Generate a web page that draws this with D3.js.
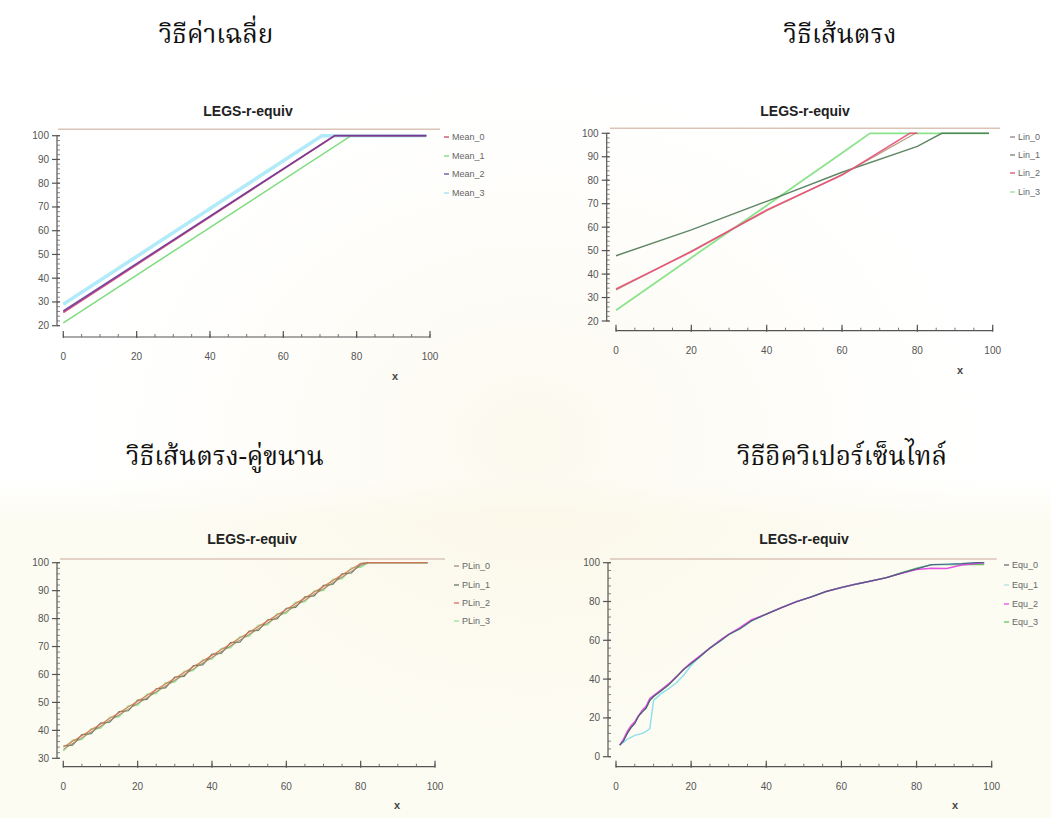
<!DOCTYPE html>
<html><head><meta charset="utf-8">
<script src="https://cdn.jsdelivr.net/npm/d3@7"></script>
<style>
html,body{margin:0;padding:0;background:#fff;}
svg{display:block;}
.head{font-family:"Angsana New","Norasi","Kinnari","Noto Serif Thai","Liberation Serif","DejaVu Serif",serif;font-size:26px;fill:#111;}
.ttl{font-family:"Liberation Sans",Arial,sans-serif;font-weight:bold;font-size:14px;fill:#222;}
.tick{font-family:"Liberation Sans Narrow","Liberation Sans",Arial,sans-serif;font-size:10px;fill:#555;}
.leg{font-family:"Liberation Sans Narrow","Liberation Sans",Arial,sans-serif;font-size:9px;fill:#666;}
.xl{font-family:"Liberation Sans",Arial,sans-serif;font-size:11px;font-weight:bold;fill:#444;}
</style></head>
<body><svg id="c" width="1051" height="818"></svg>
<script>
// ---------- data ----------
const panelHeads = ["วิธีค่าเฉลี่ย", "วิธีเส้นตรง", "วิธีเส้นตรง-คู่ขนาน", "วิธีอิควิเปอร์เซ็นไทล์"];
const chartTitle = "LEGS-r-equiv";
const xTicks = [0, 20, 40, 60, 80, 100];

// Mean method
const meanNames = ["Mean_0", "Mean_1", "Mean_2", "Mean_3"];
const mean0X = [0, 74, 99],   mean0Y = [25.6, 100, 100];
const mean1X = [0, 78.5, 99], mean1Y = [21.2, 100, 100];
const mean2X = [0, 74, 99],   mean2Y = [26.2, 100, 100];
const mean3X = [0, 70.5, 99], mean3Y = [29.0, 100, 100];
const meanYTicks = [20, 30, 40, 50, 60, 70, 80, 90, 100];

// Linear method
const linNames = ["Lin_0", "Lin_1", "Lin_2", "Lin_3"];
const lin0X = [0, 20, 40, 60, 79.5, 80],  lin0Y = [33.2, 49.8, 67.0, 82.4, 100, 100];
const lin1X = [0, 20, 40, 60, 80, 86.5, 99], lin1Y = [47.8, 58.8, 71.0, 83.4, 94.4, 100, 100];
const lin2X = [0, 20, 40, 60, 78, 80],    lin2Y = [33.6, 49.5, 67.3, 82.2, 100, 100];
const lin3X = [0, 20, 40, 60, 67.4, 99],  lin3Y = [24.6, 47.0, 69.2, 91.6, 100, 100];
const linYTicks = [20, 30, 40, 50, 60, 70, 80, 90, 100];

// Parallel-linear method
const plinNames = ["PLin_0", "PLin_1", "PLin_2", "PLin_3"];
const plinX = [0, 2.5, 5, 7.5, 10, 12.5, 15, 17.5, 20, 22.5, 25, 27.5, 30, 32.5, 35, 37.5, 40, 42.5, 45, 47.5, 50, 52.5, 55, 57.5, 60, 62.5, 65, 67.5, 70, 72.5, 75, 77.5, 80, 82, 98];
const plin0Y = [33.2, 35.3, 37.3, 39.4, 41.4, 43.5, 45.5, 47.6, 49.6, 51.7, 53.8, 55.8, 57.9, 59.9, 62.0, 64.0, 66.1, 68.1, 70.2, 72.3, 74.3, 76.4, 78.4, 80.5, 82.5, 84.6, 86.6, 88.7, 90.7, 92.8, 94.9, 96.9, 99.0, 100, 100];
const plin1Y = [34.4, 34.7, 38.5, 38.8, 42.6, 42.9, 46.7, 47.0, 50.8, 51.1, 54.9, 55.2, 59.1, 59.3, 63.2, 63.4, 67.3, 67.5, 71.4, 71.6, 75.5, 75.8, 79.6, 79.9, 83.7, 84.0, 87.8, 88.1, 91.9, 92.2, 96.0, 96.3, 99.6, 100, 100];
const plin2Y = [34.0, 36.1, 38.1, 40.2, 42.2, 44.3, 46.3, 48.4, 50.4, 52.5, 54.6, 56.6, 58.7, 60.7, 62.8, 64.8, 66.9, 68.9, 71.0, 73.1, 75.1, 77.2, 79.2, 81.3, 83.3, 85.4, 87.4, 89.5, 91.5, 93.6, 95.7, 97.7, 99.8, 100, 100];
const plin3Y = [32.6, 36.5, 36.7, 40.6, 40.8, 44.7, 44.9, 48.8, 49.0, 52.9, 53.2, 57.0, 57.3, 61.1, 61.4, 65.2, 65.5, 69.3, 69.6, 73.5, 73.7, 77.6, 77.8, 81.7, 81.9, 85.8, 86.0, 89.9, 90.1, 94.0, 94.3, 98.1, 98.4, 100, 100];
const plinYTicks = [30, 40, 50, 60, 70, 80, 90, 100];

// Equipercentile method
const equNames = ["Equ_0", "Equ_1", "Equ_2", "Equ_3"];
const equX  = [1, 2, 3, 4, 5, 6, 7, 8, 9, 10, 12, 14, 16, 18, 20, 22, 25, 28, 30, 33, 36, 40, 44, 48, 52, 56, 60, 64, 68, 72, 76, 80, 84, 88, 92, 96, 98];
const equ0Y = [6, 8, 12, 15, 17, 21, 23, 25, 29, 31, 34, 37, 41, 45, 48, 51, 56, 60, 63, 66, 70, 73.5, 76.8, 79.9, 82.4, 85.2, 87.2, 89.0, 90.6, 92.3, 94.6, 96.8, 99.0, 99.2, 99.5, 100, 100];
const equ1Y = [6, 7.5, 9, 10, 11, 11.5, 12, 13, 14.5, 29, 32.5, 35, 38, 42, 47, 51, 56, 60, 63, 66, 70, 73.5, 76.8, 79.9, 82.4, 85.2, 87.2, 89.0, 90.6, 92.3, 94.6, 96.8, 99.0, 99.2, 99.5, 100, 100];
const equ2Y = [6, 9, 13, 16, 18, 21, 24, 26, 30, 31.5, 34.5, 37.5, 41, 45, 48.5, 51.5, 56, 60.5, 63, 66.5, 70.5, 73.5, 76.8, 79.9, 82.4, 85.2, 87.2, 89.0, 90.6, 92.3, 94.6, 96.5, 97.2, 97.0, 98.8, 99.6, 100];
const equ3Y = [6, 8.5, 12, 15, 17.5, 21, 23.5, 25, 29, 31, 34, 37, 41, 45, 48, 51, 56, 60, 63, 66, 70, 73.5, 76.8, 79.9, 82.4, 85.2, 87.2, 89.0, 90.6, 92.3, 94.8, 97.2, 99.0, 99.0, 99.0, 99.0, 99.0];
const equYTicks = [0, 20, 40, 60, 80, 100];

// ---------- drawing ----------
const svg = d3.select("#c");

// faint watermark tint
const defs = svg.append("defs");
const rg = defs.append("radialGradient").attr("id", "wm").attr("cx", "0.5").attr("cy", "0.5").attr("r", "0.5");
rg.append("stop").attr("offset", "0").attr("stop-color", "#f6efd2").attr("stop-opacity", 0.4);
rg.append("stop").attr("offset", "1").attr("stop-color", "#fbf8ea").attr("stop-opacity", 0);
const bg = defs.append("linearGradient").attr("id", "band").attr("x1", 0).attr("y1", 0).attr("x2", 0).attr("y2", 1);
bg.append("stop").attr("offset", "0").attr("stop-color", "#fdfcf3").attr("stop-opacity", 0);
bg.append("stop").attr("offset", "0.12").attr("stop-color", "#fdfcf3").attr("stop-opacity", 1);
bg.append("stop").attr("offset", "1").attr("stop-color", "#fdfcf3").attr("stop-opacity", 1);
svg.append("rect").attr("x", 0).attr("y", 478).attr("width", 1051).attr("height", 340).attr("fill", "url(#band)");
svg.append("rect").attr("x", 60).attr("y", 60).attr("width", 940).attr("height", 758).attr("fill", "url(#wm)");

// headers
const headPos = [[216, 43], [840, 43], [225, 465], [842, 465]];
panelHeads.forEach((t, i) => svg.append("text").attr("class", "head").attr("x", headPos[i][0]).attr("y", headPos[i][1]).attr("text-anchor", "middle").text(t));

function zip(xs, ys) { return xs.map((x, i) => [x, ys[i]]); }

function panel(cfg) {
  const g = svg.append("g");
  const x = d3.scaleLinear().domain([0, 100]).range(cfg.xr);
  const y = d3.scaleLinear().domain(cfg.yd).range(cfg.yr);
  // frame top line
  g.append("line").attr("x1", cfg.frame[0]).attr("x2", cfg.frame[1]).attr("y1", cfg.frameY).attr("y2", cfg.frameY)
    .attr("stroke", "#dcc3b8").attr("stroke-width", 1.5);
  // title
  g.append("text").attr("class", "ttl").attr("x", cfg.title[0]).attr("y", cfg.title[1]).attr("text-anchor", "middle").text(chartTitle);
  // y axis
  const ax = cfg.axisX;
  g.append("line").attr("x1", ax).attr("x2", ax).attr("y1", y(cfg.yd[1])).attr("y2", y(cfg.yd[0])).attr("stroke", "#555").attr("stroke-width", 1.2);
  const minor = d3.range(cfg.yd[0], cfg.yd[1] + 0.001, cfg.yMinor);
  g.selectAll(null).data(minor).join("line").attr("x1", ax).attr("x2", ax + 3).attr("y1", d => y(d)).attr("y2", d => y(d)).attr("stroke", "#666").attr("stroke-width", 0.8);
  g.selectAll(null).data(cfg.yTicks).join("line").attr("x1", ax - 5).attr("x2", ax + 3).attr("y1", d => y(d)).attr("y2", d => y(d)).attr("stroke", "#555").attr("stroke-width", 1.2);
  g.selectAll(null).data(cfg.yTicks).join("text").attr("class", "tick").attr("x", ax - 8).attr("y", d => y(d)).attr("dy", "0.35em").attr("text-anchor", "end").text(d => d);
  // x axis
  const xa = cfg.axisY;
  g.append("line").attr("x1", x(0)).attr("x2", x(100)).attr("y1", xa).attr("y2", xa).attr("stroke", "#555").attr("stroke-width", 1.2);
  const xm = d3.range(0, 100.001, 5);
  g.selectAll(null).data(xm).join("line").attr("x1", d => x(d)).attr("x2", d => x(d)).attr("y1", xa).attr("y2", xa - 3).attr("stroke", "#666").attr("stroke-width", 0.9);
  g.selectAll(null).data(xTicks).join("line").attr("x1", d => x(d)).attr("x2", d => x(d)).attr("y1", xa + 1).attr("y2", xa - 6).attr("stroke", "#555").attr("stroke-width", 1.2);
  g.selectAll(null).data(xTicks).join("text").attr("class", "tick").attr("x", d => x(d)).attr("y", xa + 23).attr("text-anchor", "middle").text(d => d);
  g.append("text").attr("class", "xl").attr("x", cfg.xlab[0]).attr("y", cfg.xlab[1]).attr("text-anchor", "middle").text("x");
  // lines
  const line = d3.line().x(d => x(d[0])).y(d => y(d[1]));
  cfg.series.forEach(s => {
    g.append("path").datum(s.pts).attr("d", line).attr("fill", "none").attr("stroke", s.color).attr("stroke-width", s.w || 1.5).attr("stroke-opacity", 0.9);
  });
  // legend
  cfg.names.forEach((n, i) => {
    const ly = cfg.legY[i];
    g.append("line").attr("x1", cfg.legX).attr("x2", cfg.legX + 5).attr("y1", ly).attr("y2", ly).attr("stroke", cfg.legCol[i]).attr("stroke-width", 1.2);
    g.append("text").attr("class", "leg").attr("x", cfg.legX + 8).attr("y", ly).attr("dy", "0.35em").text(n);
  });
}

panel({
  xr: [63.3, 430], yd: [20, 100], yr: [325.7, 135.7], axisX: 57, axisY: 337, yTicks: meanYTicks, yMinor: 2,
  frame: [58, 440], frameY: 129.3, title: [248, 116], xlab: [395, 380],
  names: meanNames, legX: 444, legY: [137, 156, 174, 193],
  legCol: ["#c03a5a", "#70d070", "#5a3a9a", "#90e0f0"],
  series: [
    { pts: zip(mean3X, mean3Y), color: "#a8e8f8", w: 3.5 },
    { pts: zip(mean1X, mean1Y), color: "#70d870", w: 1.5 },
    { pts: zip(mean0X, mean0Y), color: "#d04070", w: 1.8 },
    { pts: zip(mean2X, mean2Y), color: "#6a3a9a", w: 1.6 }
  ]
});

panel({
  xr: [616, 992.7], yd: [20, 100], yr: [321, 133.3], axisX: 606.7, axisY: 330.7, yTicks: linYTicks, yMinor: 2,
  frame: [610, 1000], frameY: 128.3, title: [805, 116], xlab: [960, 374],
  names: linNames, legX: 1010, legY: [137, 155, 173, 192],
  legCol: ["#8a7a70", "#6a7a6a", "#e04070", "#90e090"],
  series: [
    { pts: zip(lin3X, lin3Y), color: "#80e080", w: 1.8 },
    { pts: zip(lin1X, lin1Y), color: "#4c7a55", w: 1.4 },
    { pts: zip(lin0X, lin0Y), color: "#b09070", w: 1.3 },
    { pts: zip(lin2X, lin2Y), color: "#e8507a", w: 1.6 }
  ]
});

panel({
  xr: [63.3, 435], yd: [30, 100], yr: [758.3, 562.7], axisX: 57, axisY: 766.7, yTicks: plinYTicks, yMinor: 2,
  frame: [60, 445], frameY: 559, title: [252, 544], xlab: [397, 809],
  names: plinNames, legX: 454, legY: [566, 585, 603, 621],
  legCol: ["#a08080", "#5a6a5a", "#e06050", "#90e090"],
  series: [
    { pts: zip(plinX, plin3Y), color: "#8ee48e", w: 1.6 },
    { pts: zip(plinX, plin1Y), color: "#4f7a4f", w: 1.2 },
    { pts: zip(plinX, plin0Y), color: "#b08070", w: 1.1 },
    { pts: zip(plinX, plin2Y), color: "#e87050", w: 1.1 }
  ]
});

panel({
  xr: [616, 991.7], yd: [0, 100], yr: [756.7, 562.7], axisX: 608, axisY: 766.7, yTicks: equYTicks, yMinor: 4,
  frame: [610, 996.7], frameY: 559, title: [804, 544], xlab: [955, 809],
  names: equNames, legX: 1004, legY: [565, 585, 604, 622],
  legCol: ["#606070", "#b0d8e0", "#e040e0", "#50c050"],
  series: [
    { pts: zip(equX, equ3Y), color: "#50c050", w: 1.4 },
    { pts: zip(equX, equ1Y), color: "#80dcec", w: 1.4 },
    { pts: zip(equX, equ2Y), color: "#e040e0", w: 1.5 },
    { pts: zip(equX, equ0Y), color: "#4a5878", w: 1.2 }
  ]
});
</script></body></html>
